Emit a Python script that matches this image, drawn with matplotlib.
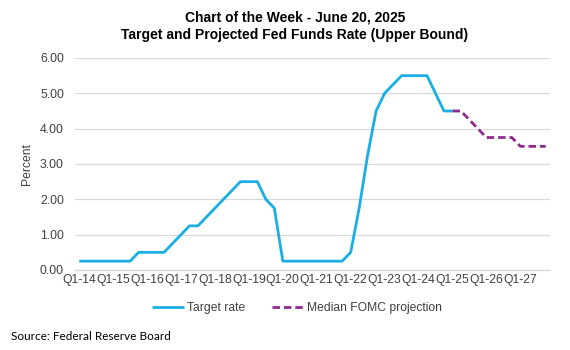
import matplotlib
matplotlib.use("Agg")
import matplotlib.pyplot as plt

# ---- data ----
# quarterly, Q1-14 .. Q4-27 (end of quarter upper bound)
target_rate = [0.25, 0.25, 0.25, 0.25, 0.25, 0.25, 0.25,   # Q1-14..Q3-15
               0.50, 0.50, 0.50, 0.50,                     # Q4-15..Q3-16
               0.75, 1.00, 1.25, 1.25, 1.50,               # Q4-16..Q4-17
               1.75, 2.00, 2.25, 2.50,                     # Q1-18..Q4-18
               2.50, 2.50, 2.00, 1.75,                     # Q1-19..Q4-19
               0.25, 0.25, 0.25, 0.25, 0.25, 0.25, 0.25, 0.25,  # Q1-20..Q4-21
               0.50, 1.75, 3.25, 4.50,                     # 2022
               5.00, 5.25, 5.50, 5.50,                     # 2023
               5.50, 5.50, 5.00, 4.50,                     # 2024
               4.50]                                       # Q1-25
projection = [4.50, 4.50, 4.25, 4.00,                      # Q1-25..Q4-25
              3.75, 3.75, 3.75, 3.75,                      # 2026
              3.50, 3.50, 3.50, 3.50]                      # 2027
projection_start = 44  # index of Q1-25
n_quarters = 56
tick_labels = ["Q1-14", "Q1-15", "Q1-16", "Q1-17", "Q1-18", "Q1-19", "Q1-20",
               "Q1-21", "Q1-22", "Q1-23", "Q1-24", "Q1-25", "Q1-26", "Q1-27"]
y_ticks = [0, 1, 2, 3, 4, 5, 6]

plt.rcParams['font.family'] = ['Liberation Sans', 'DejaVu Sans']

fig = plt.figure(figsize=(5.7, 3.5), dpi=100)
ax = fig.add_axes([75/570, 80/350, 475/570, 212/350])

x_target = list(range(len(target_rate)))
x_proj = list(range(projection_start, projection_start + len(projection)))

ax.plot(x_target, target_rate, color="#1AAEE5", lw=2.0, solid_capstyle="butt",
        label="Target rate", zorder=3)
ax.plot(x_proj, projection, color="#8E2A8C", lw=2.0, ls=(0, (2.7, 1.4)),
        label="Median FOMC projection", zorder=3)

ax.set_xlim(-0.5, n_quarters - 0.5)
ax.set_ylim(0, 6)
ax.set_xticks(list(range(0, n_quarters, 4)))
ax.set_xticklabels(tick_labels)
ax.set_yticks(y_ticks)
ax.set_yticklabels([f"{v:.2f}" for v in y_ticks])
ax.tick_params(axis="both", length=0, labelsize=8.7, colors="#404040")
ax.tick_params(axis="x", pad=3)
ax.tick_params(axis="y", pad=8)
ax.grid(axis="y", color="#D9D9D9", lw=0.9)
ax.set_axisbelow(True)
for s in ["top", "right", "left"]:
    ax.spines[s].set_visible(False)
ax.spines["bottom"].set_color("#D9D9D9")
ax.spines["bottom"].set_linewidth(0.9)

ax.set_ylabel("Percent", fontsize=8.7, color="#404040", labelpad=5)

fig.text(295/570, 1 - 18/350, "Chart of the Week - June 20, 2025", ha="center",
         va="center", fontsize=10, fontweight="bold", color="#000000")
fig.text(295/570, 1 - 35/350, "Target and Projected Fed Funds Rate (Upper Bound)",
         ha="center", va="center", fontsize=10, fontweight="bold", color="#000000")

leg = fig.legend(loc="center", bbox_to_anchor=(297/570, 1 - 308/350), ncol=2,
                 frameon=False, fontsize=8.7, handlelength=2.6, handletextpad=0.3,
                 columnspacing=2.2)
for t in leg.get_texts():
    t.set_color("#404040")

fig.text(11/570, 1 - 337/350, "Source: Federal Reserve Board", ha="left", va="center",
         fontsize=8.5, family=["Lato", "DejaVu Sans"], color="#000000")

fig.savefig("out.png", dpi=100)
